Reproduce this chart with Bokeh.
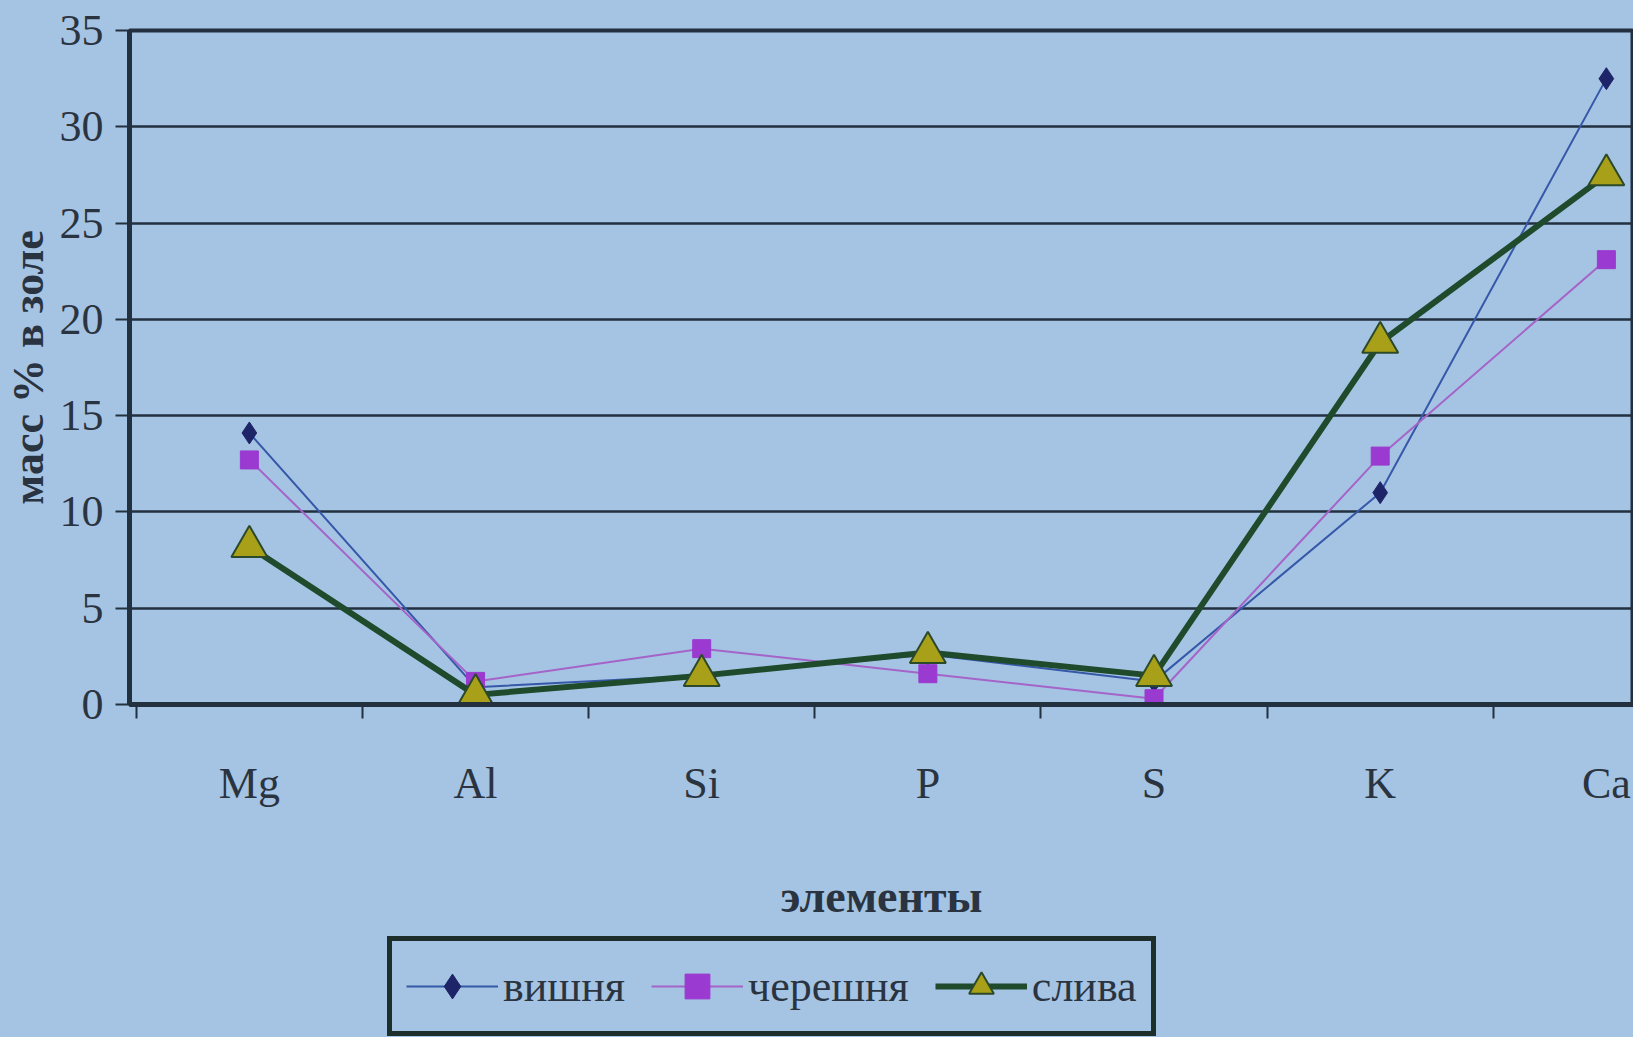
from bokeh.plotting import figure
from bokeh.layouts import column
from bokeh.models import FixedTicker, Legend, LegendItem, Range1d
from bokeh.embed import file_html
from bokeh.resources import INLINE

elements = ["Mg", "Al", "Si", "P", "S", "K", "Ca"]
vishnya = [14.1, 0.9, 1.5, 2.6, 1.2, 11.0, 32.5]
chereshnya = [12.7, 1.2, 2.9, 1.6, 0.3, 12.9, 23.1]
sliva = [8.2, 0.5, 1.5, 2.7, 1.5, 18.8, 27.5]
series_names = ["вишня", "черешня", "слива"]
y_ticks = [0, 5, 10, 15, 20, 25, 30, 35]

BG = "#a5c3e3"
DARK = "#223040"
TXT = "#2a3440"
FONT = "Liberation Serif"

styles = [
    dict(line_color="#3658a8", line_width=2, marker="diamond", size=22,
         fill_color="#1e2468", mline="#1e2468", mwidth=1),
    dict(line_color="#a464c8", line_width=2, marker="square", size=18,
         fill_color="#9a3ad0", mline="#9a3ad0", mwidth=1),
    dict(line_color="#1f4a2c", line_width=6, marker="triangle", size=36,
         fill_color="#a8a018", mline="#2c4a2a", mwidth=2),
]

xs = list(range(len(elements)))
series = [vishnya, chereshnya, sliva]

p = figure(width=1633, height=928, output_backend="svg", toolbar_location=None,
           x_range=Range1d(-0.53, 6.12), y_range=Range1d(0, 35),
           min_border_left=129, min_border_right=0, min_border_top=30, min_border_bottom=224)
p.background_fill_color = BG
p.border_fill_color = BG
p.outline_line_color = DARK
p.outline_line_width = 4

# axes
p.xaxis.ticker = FixedTicker(ticks=xs, minor_ticks=[i - 0.5 for i in range(len(elements) + 1)])
p.xaxis.major_label_overrides = {i: e for i, e in enumerate(elements)}
p.xaxis.major_tick_out = 0
p.xaxis.major_tick_in = 0
p.xaxis.minor_tick_out = 14
p.xaxis.minor_tick_in = 0
p.xaxis.minor_tick_line_color = DARK
p.xaxis.minor_tick_line_width = 2
p.xaxis.axis_line_color = DARK
p.xaxis.axis_line_width = 5
p.xaxis.major_label_text_font = FONT
p.xaxis.major_label_text_font_size = "44px"
p.xaxis.major_label_text_color = TXT
p.xaxis.major_label_standoff = 40
p.xaxis.axis_label = "элементы"
p.xaxis.axis_label_text_font = FONT
p.xaxis.axis_label_text_font_size = "46px"
p.xaxis.axis_label_text_font_style = "bold"
p.xaxis.axis_label_text_color = TXT
p.xaxis.axis_label_standoff = 60

p.yaxis.ticker = FixedTicker(ticks=y_ticks)
p.yaxis.major_tick_out = 14
p.yaxis.major_tick_in = 0
p.yaxis.major_tick_line_color = DARK
p.yaxis.major_tick_line_width = 2
p.yaxis.minor_tick_line_color = None
p.yaxis.axis_line_color = DARK
p.yaxis.axis_line_width = 5
p.yaxis.major_label_text_font = FONT
p.yaxis.major_label_text_font_size = "44px"
p.yaxis.major_label_text_color = TXT
p.yaxis.major_label_standoff = 12
p.yaxis.axis_label = "масс % в золе"
p.yaxis.axis_label_text_font = FONT
p.yaxis.axis_label_text_font_size = "44px"
p.yaxis.axis_label_text_font_style = "bold"
p.yaxis.axis_label_text_color = TXT
p.yaxis.axis_label_standoff = 4

p.xgrid.grid_line_color = None
p.ygrid.ticker = FixedTicker(ticks=y_ticks)
p.ygrid.grid_line_color = DARK
p.ygrid.grid_line_width = 2.5

# series
for vals, st in zip(series, styles):
    p.line(xs, vals, line_color=st["line_color"], line_width=st["line_width"])
    p.scatter(xs, vals, marker=st["marker"], size=st["size"], fill_color=st["fill_color"],
              line_color=st["mline"], line_width=st["mwidth"])

# legend strip below the chart (same series styles, renderers hidden, only the legend shows)
q = figure(width=1633, height=109, output_backend="svg", toolbar_location=None,
           x_range=Range1d(0, 1), y_range=Range1d(0, 1),
           min_border_left=0, min_border_right=0, min_border_top=0, min_border_bottom=0)
q.axis.visible = False
q.grid.visible = False
q.outline_line_color = None
q.background_fill_alpha = 0
q.border_fill_color = BG

items = []
for name, vals, st in zip(series_names, series, styles):
    lr = q.line(xs, vals, line_color=st["line_color"], line_width=st["line_width"], visible=False)
    sr = q.scatter(xs, vals, marker=st["marker"], size=st["size"], fill_color=st["fill_color"],
                   line_color=st["mline"], line_width=st["mwidth"], visible=False)
    items.append(LegendItem(label=name, renderers=[lr, sr]))

legend = Legend(items=items, orientation="horizontal", location=(258, 1))
legend.label_text_font = FONT
legend.label_text_font_size = "44px"
legend.label_text_color = TXT
legend.background_fill_color = BG
legend.background_fill_alpha = 1
legend.inactive_fill_alpha = 0
legend.border_line_color = "#1e2e2a"
legend.border_line_alpha = 1
legend.border_line_width = 5
legend.glyph_width = 92
legend.glyph_height = 62
legend.spacing = 26
legend.padding = 14
legend.label_standoff = 5
legend.margin = 0
q.add_layout(legend, "center")

layout = column(p, q, spacing=0, styles={"background-color": BG})
open("out.html", "w").write(file_html(layout, INLINE))
